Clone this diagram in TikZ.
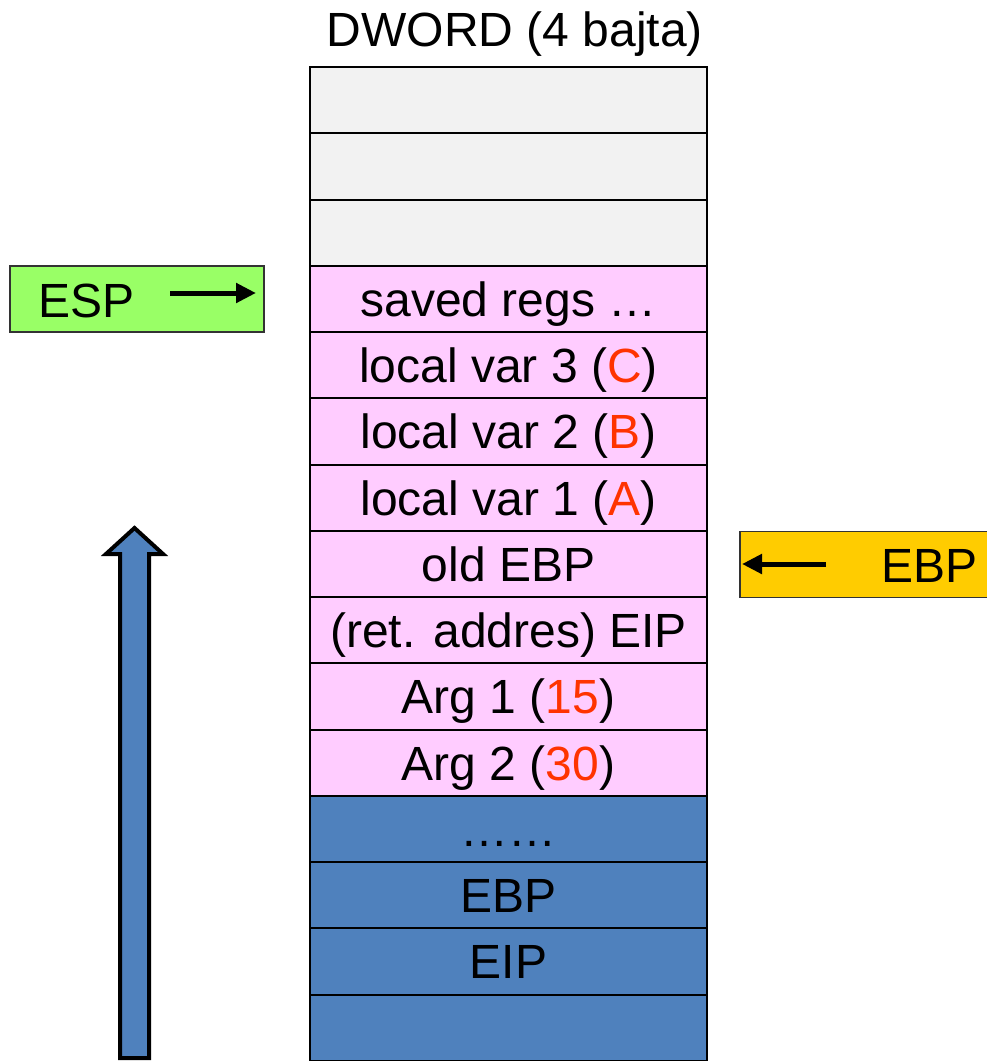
\documentclass[tikz,border=0pt]{standalone}
\usepackage{fontspec}
\setmainfont{Liberation Sans}
\usetikzlibrary{arrows.meta}
\definecolor{slotgray}{HTML}{F2F2F2}
\definecolor{framepink}{HTML}{FFCCFF}
\definecolor{callerblue}{HTML}{4F81BD}
\definecolor{espgreen}{HTML}{99FF66}
\definecolor{ebpgold}{HTML}{FFCC00}
\definecolor{valred}{HTML}{FF3300}
\newcommand{\val}[1]{\textcolor{valred}{#1}}
\begin{document}
\begin{tikzpicture}[x=1pt,y=-1pt,
  every node/.style={font=\fontsize{48}{56}\selectfont},
  cell/.style={draw=black,line width=2pt,minimum width=397pt,minimum height=66.27pt,
    inner sep=0pt,text height=34.5pt,text depth=0pt},
  free/.style={cell,fill=slotgray},
  frame/.style={cell,fill=framepink},
  caller/.style={cell,fill=callerblue},
  regbox/.style={draw=black!80,line width=1.5pt,minimum height=66pt,inner sep=0pt},
  lbl/.style={anchor=base west,inner sep=0pt},
  ptr/.style={line width=5pt,-{Triangle[length=20pt,width=19pt]}}]
\useasboundingbox (0,0) rectangle (986,1061);

% column heading
\node[anchor=base,inner sep=0pt] (title) at (515,46) {DWORD (4 bajta)};

% stack slots, top (low addresses) to bottom
\node[free]   (s0)  at (508.5,100.1)  {};
\node[free]   (s1)  at (508.5,166.4)  {};
\node[free]   (s2)  at (508.5,232.7)  {};
\node[frame]  (s3)  at (508.5,299.0)  {saved regs …};
\node[frame]  (s4)  at (508.5,365.2)  {local var 3 (\val{C})};
\node[frame]  (s5)  at (508.5,431.5)  {local var 2 (\val{B})};
\node[frame]  (s6)  at (508.5,497.8)  {local var 1 (\val{A})};
\node[frame]  (s7)  at (508.5,564.0)  {old EBP};
\node[frame]  (s8)  at (508.5,630.3)  {(ret. addres) EIP};
\node[frame]  (s9)  at (508.5,696.6)  {Arg 1 (\val{15})};
\node[frame]  (s10) at (508.5,762.8)  {Arg 2 (\val{30})};
\node[caller] (s11) at (508.5,829.1)  {……};
\node[caller] (s12) at (508.5,895.4)  {EBP};
\node[caller] (s13) at (508.5,961.6)  {EIP};
\node[caller] (s14) at (508.5,1027.9) {};

% ESP register
\node[regbox,fill=espgreen,minimum width=254pt] (esp) at (137,299) {};
\node[lbl] (esplbl) at (38,317) {ESP};
\coordinate (espfrom) at (170,293);
\coordinate (espto) at (256,293);
\draw[ptr] (espfrom) -- (espto);

% EBP register
\node[regbox,fill=ebpgold,minimum width=252pt] (ebp) at (866,564.5) {};
\node[lbl] (ebplbl) at (881,582) {EBP};
\coordinate (ebpfrom) at (826,564);
\coordinate (ebpto) at (742,564);
\draw[ptr] (ebpfrom) -- (ebpto);

% direction of stack growth
\draw[fill=callerblue,line width=4pt,line join=miter]
  (120,1058) -- (120,554) -- (106,554) -- (134.5,528) -- (163,554)
  -- (149,554) -- (149,1058) -- cycle;
\end{tikzpicture}
\end{document}
